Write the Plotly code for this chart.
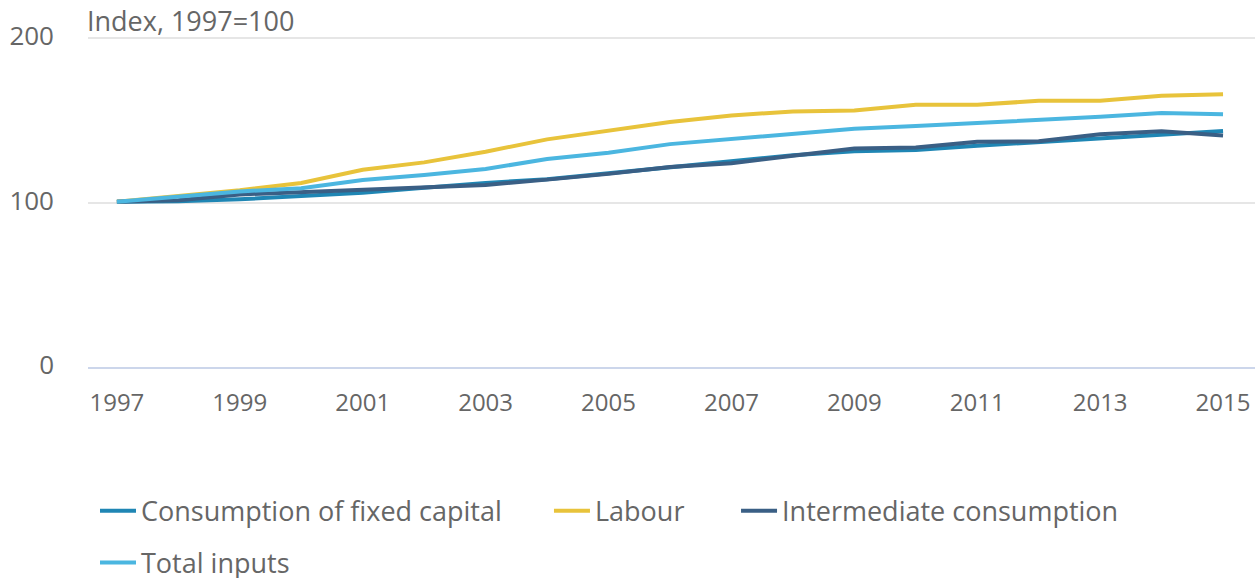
import plotly.graph_objects as go

# index values, 1997=100
years = list(range(1997, 2016))
fixed_capital = [100.5, 100.8, 102, 104, 106, 109, 112, 114.2, 117.8, 121.7,
                 124.8, 128.8, 131.3, 132, 134.6, 137, 139.2, 141.6, 143.6]
labour = [100.5, 104, 107.6, 112, 120, 124.5, 131, 138.5, 143.5, 149,
          153, 155.5, 156, 159.5, 159.5, 162, 162, 165, 166]
intermediate = [100.5, 101.5, 105, 106.5, 108, 109.5, 110.8, 114, 117.5, 121.7,
                124, 128.5, 133, 133.5, 137, 137.3, 141.6, 143.5, 140.8]
total_inputs = [100.5, 103.5, 106.8, 108.8, 113.8, 116.8, 120.5, 126.5, 130.3, 135.6,
                138.6, 142, 145, 146.7, 148.5, 150, 152.2, 154.5, 153.8]

series = [
    ("Consumption of fixed capital", fixed_capital, "#1f86b4", "legend"),
    ("Labour", labour, "#e8c33b", "legend2"),
    ("Intermediate consumption", intermediate, "#3a5f85", "legend3"),
    ("Total inputs", total_inputs, "#4bb6e0", "legend4"),
]

TEXT = "#666666"
FONT = "Open Sans"
AXIS = "#ccd6eb"

fig = go.Figure()
for name, vals, color, leg in series:
    fig.add_trace(go.Scatter(
        x=years, y=vals, name=name, mode="lines",
        line=dict(color=color, width=4),
        legend=leg,
    ))

# one legend per entry so the spacing can follow the original
leg_common = dict(orientation="h", xanchor="left", yanchor="middle", itemwidth=36,
                  bgcolor="rgba(0,0,0,0)", font=dict(family=FONT, size=27, color=TEXT))
row1, row2 = -0.434, -0.59

fig.update_layout(
    width=1259, height=578,
    margin=dict(l=88, r=4, t=35, b=211, autoexpand=False),
    paper_bgcolor="white", plot_bgcolor="white",
    font=dict(family=FONT, color=TEXT, size=24),
    showlegend=True,
    legend=dict(x=0.006, y=row1, **leg_common),
    legend2=dict(x=0.395, y=row1, **leg_common),
    legend3=dict(x=0.5553, y=row1, **leg_common),
    legend4=dict(x=0.006, y=row2, **leg_common),
    xaxis=dict(
        range=[1996.53, 2015.52],
        tickvals=years[::2],
        showgrid=False, automargin=False,
        showline=True, linecolor=AXIS, linewidth=2,
        ticks="outside", ticklen=13, tickcolor="rgba(0,0,0,0)",
        tickfont=dict(family=FONT, size=24, color=TEXT),
        zeroline=False,
    ),
    # second axis only carries the long tick marks
    xaxis2=dict(
        overlaying="x", anchor="y", side="bottom", matches="x",
        range=[1996.53, 2015.52],
        tickvals=years[::2], showticklabels=False,
        showgrid=False, showline=False, zeroline=False, automargin=False,
        ticks="outside", ticklen=20, tickcolor=AXIS, tickwidth=1,
    ),
    yaxis=dict(
        range=[0, 202],
        tickvals=[0, 100, 200],
        showgrid=True, gridcolor="#e6e6e6", gridwidth=2,
        zeroline=False, automargin=False,
        ticks="", ticklabelstandoff=33, ticklabelshift=-2,
        tickfont=dict(family=FONT, size=26, color=TEXT),
    ),
    annotations=[dict(
        text="Index, 1997=100", xref="paper", yref="paper",
        x=0, y=1, xanchor="left", yanchor="bottom", xshift=-3, yshift=-6,
        showarrow=False, font=dict(family=FONT, size=27, color=TEXT),
    )],
)

fig.write_html("out.html", config={"displayModeBar": False},
               post_script="document.body.style.margin='0';")
